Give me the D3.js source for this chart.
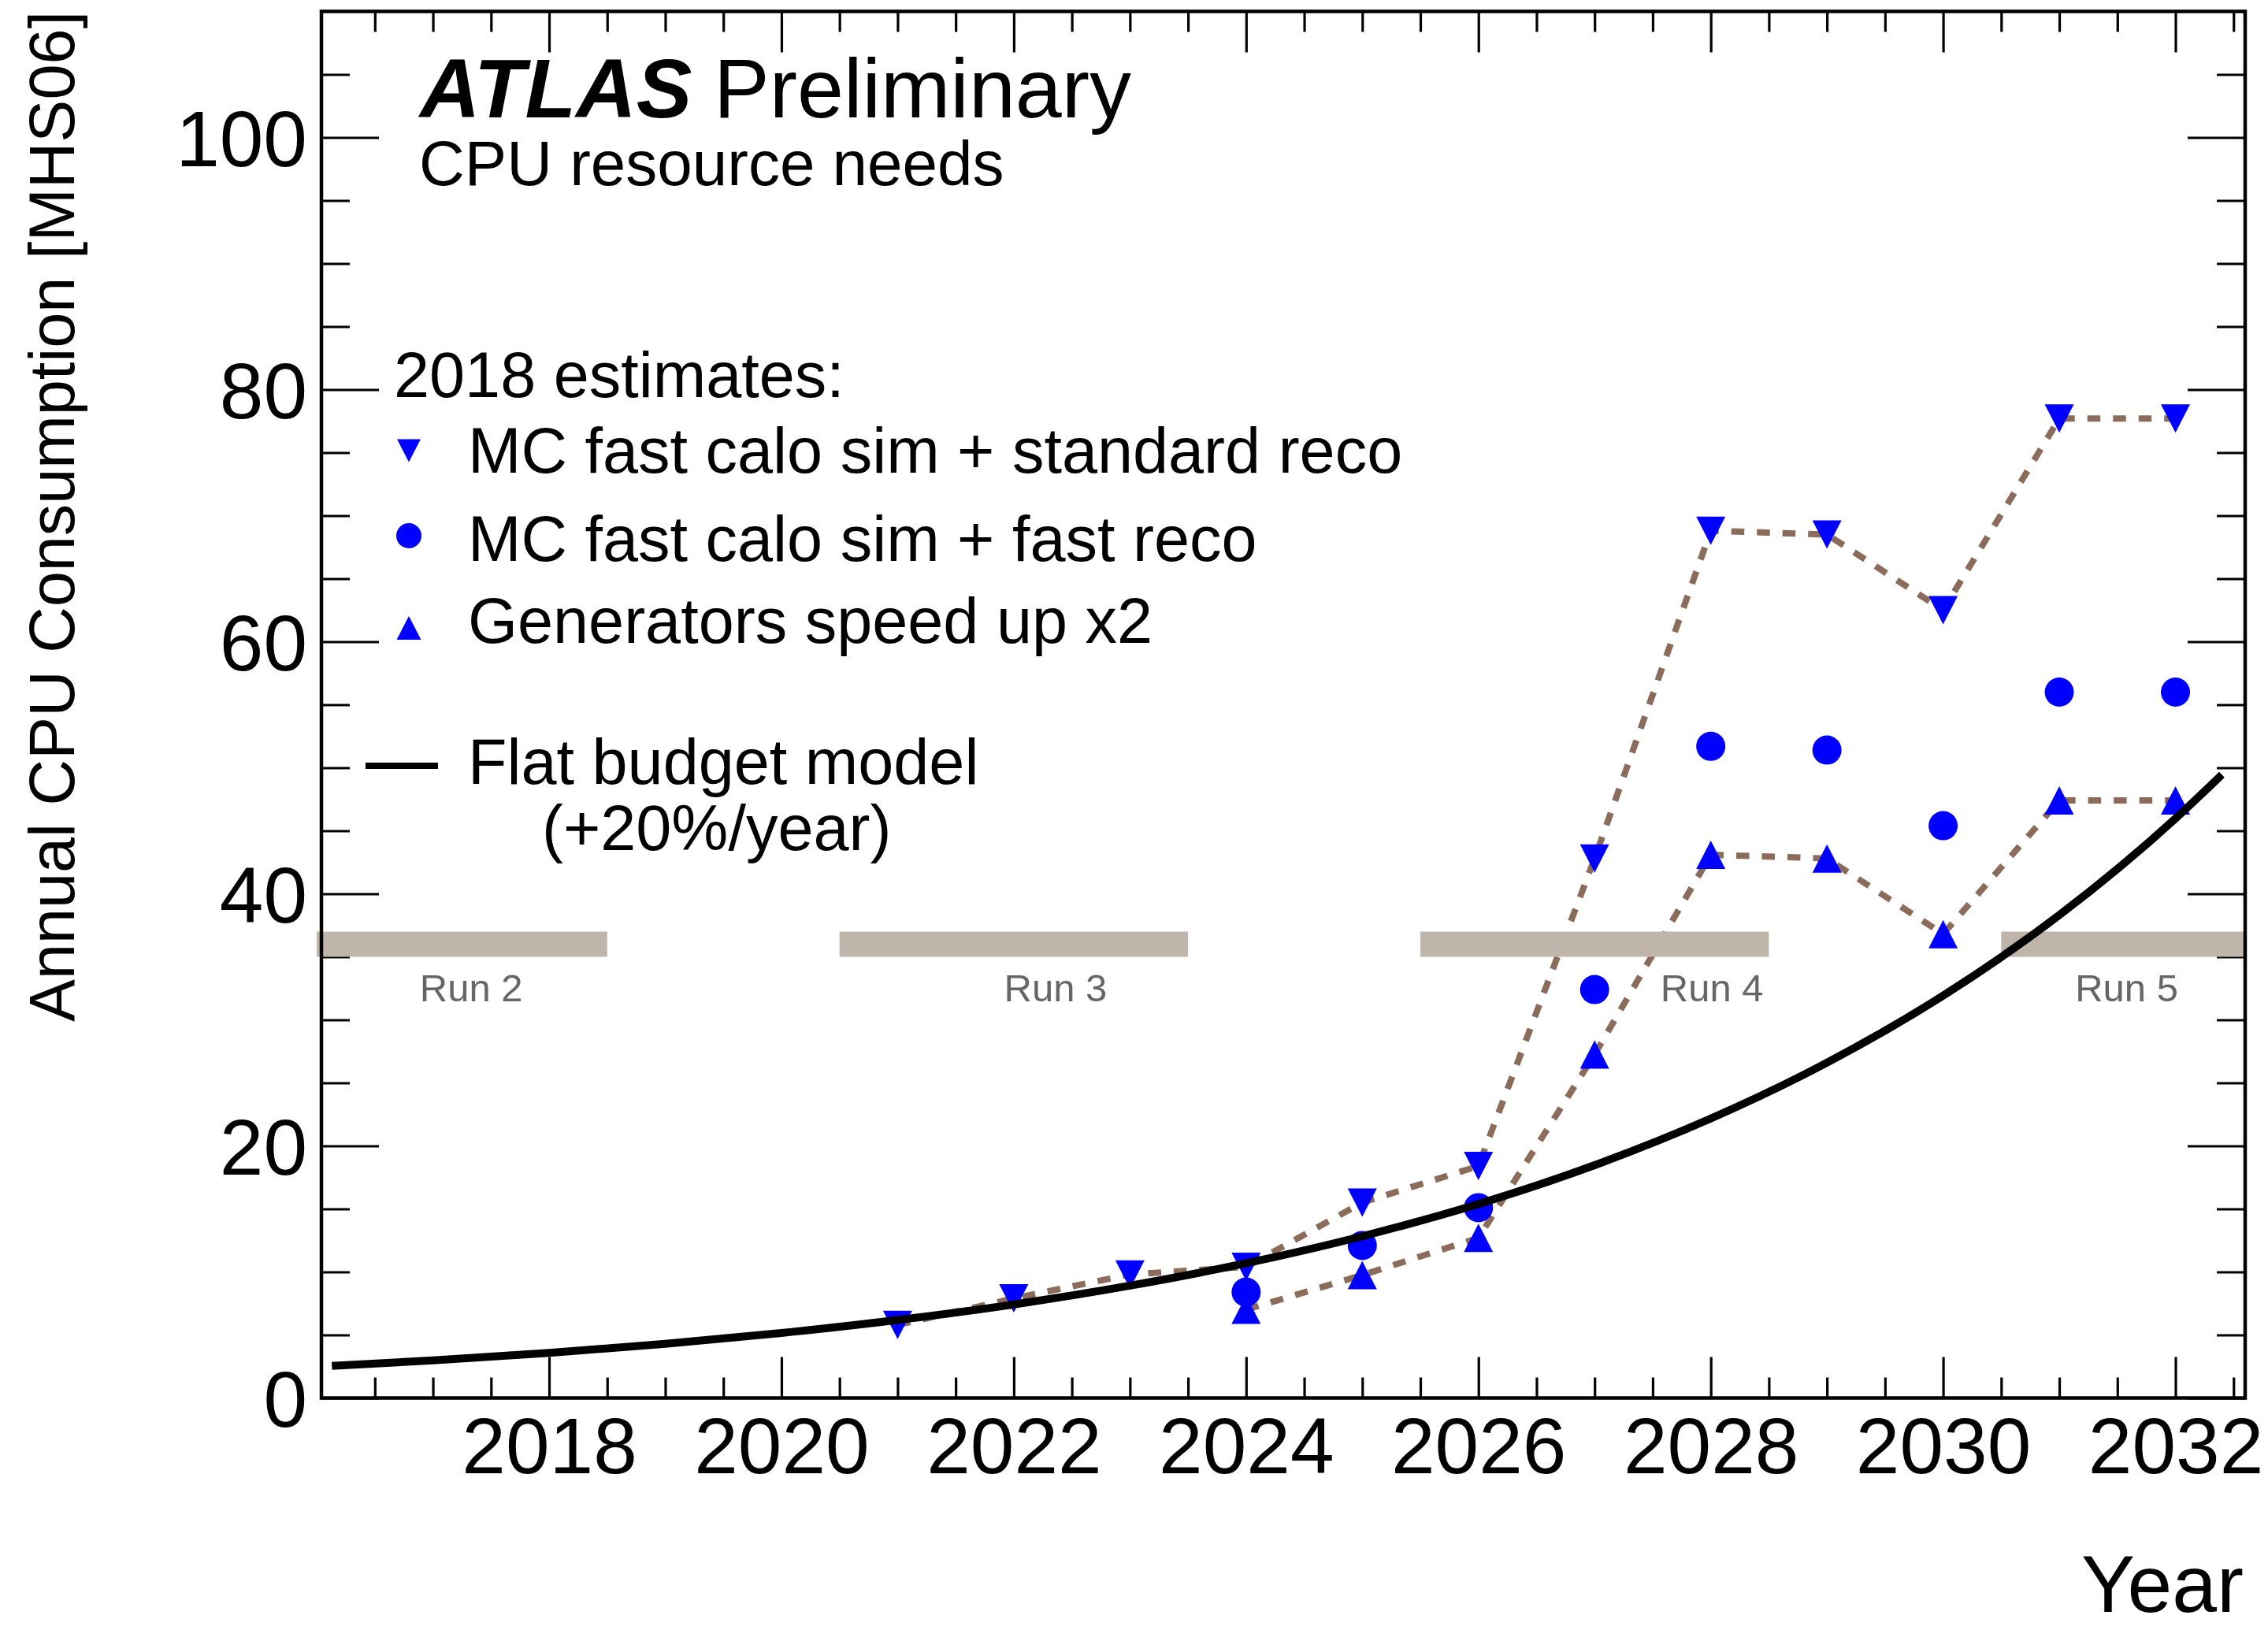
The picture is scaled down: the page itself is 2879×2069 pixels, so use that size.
<!DOCTYPE html>
<html>
<head>
<meta charset="utf-8">
<script src="https://cdn.jsdelivr.net/npm/d3@7"></script>
<style>
  html, body { margin: 0; padding: 0; background: #fff; }
  svg { display: block; }
  text { font-family: "Liberation Sans", Arial, Helvetica, sans-serif; }
</style>
</head>
<body>
<script>
// ---------------- data ----------------
const stdRecoYears  = [2021, 2022, 2023, 2024, 2025, 2026, 2027, 2028, 2029, 2030, 2031, 2032];
const stdRecoValues = [5.8, 7.9, 9.8, 10.4, 15.5, 18.4, 42.8, 68.8, 68.5, 62.5, 77.7, 77.7];

const fastRecoYears  = [2024, 2025, 2026, 2027, 2028, 2029, 2030, 2031, 2032];
const fastRecoValues = [8.4, 12.1, 15.1, 32.4, 51.7, 51.4, 45.4, 56.0, 56.0];

const genYears  = [2024, 2025, 2026, 2027, 2028, 2029, 2030, 2031, 2032];
const genValues = [7.0, 9.75, 12.7, 27.25, 43.1, 42.8, 36.8, 47.4, 47.4];

// Flat budget model (+20%/year)
const budgetYears  = [2016.13, 2017, 2018, 2019, 2020, 2021, 2022, 2023, 2024, 2025, 2026, 2027, 2028, 2029, 2030, 2031, 2032, 2032.4];
const budgetValues = [2.54, 2.98, 3.58, 4.30, 5.16, 6.19, 7.42, 8.91, 10.69, 12.83, 15.39, 18.47, 22.17, 26.60, 31.92, 38.31, 45.97, 49.45];

// LHC runs
const runNames  = ["Run 2", "Run 3", "Run 4", "Run 5"];
const runStart  = [2016.0, 2020.5, 2025.5, 2030.5];
const runEnd    = [2018.5, 2023.5, 2028.5, 2032.6];
const runLabelX = [2017.33, 2022.36, 2028.01, 2031.58];
const runBandLow = 35, runBandHigh = 37, runLabelY = 31.5;

// axes
const xMajorTicks = [2018, 2020, 2022, 2024, 2026, 2028, 2030, 2032];
const xMinorTicks = d3.range(2016.5, 2032.51, 0.5).filter(v => v % 2 !== 0);
const yMajorTicks = [0, 20, 40, 60, 80, 100];
const yMinorTicks = d3.range(5, 110, 5).filter(v => v % 20 !== 0);
const xDomain = [2016.04, 2032.6];
const yDomain = [0, 110];

const legendLabels = ["MC fast calo sim + standard reco", "MC fast calo sim + fast reco", "Generators speed up x2"];

// ---------------- layout ----------------
const W = 2879, H = 2069;
const L = 408, R = 2850, T = 14.5, B = 1774.5;
const FONT = '"Liberation Sans", Arial, Helvetica, sans-serif';
const BLUE = "#0000ff", BROWN = "#8b6b5a", BAND = "#bfb5ab", RUNTXT = "#666666";

const svg = d3.select("body").append("svg").attr("width", W).attr("height", H);
svg.append("rect").attr("width", W).attr("height", H).attr("fill", "#fff");

const x = d3.scaleLinear().domain(xDomain).range([L, R]);
const y = d3.scaleLinear().domain(yDomain).range([B, T]);

// custom symbols (bbox centred triangles)
function triType(w, h, up) {
  return { draw(ctx) {
    if (up) { ctx.moveTo(0, -h/2); ctx.lineTo(w/2, h/2); ctx.lineTo(-w/2, h/2); }
    else    { ctx.moveTo(0, h/2);  ctx.lineTo(w/2, -h/2); ctx.lineTo(-w/2, -h/2); }
    ctx.closePath();
  }};
}
const triDown = d3.symbol().type(triType(37, 36, false));
const triUp   = d3.symbol().type(triType(37, 36, true));
const circ    = d3.symbol().type(d3.symbolCircle).size(Math.PI * 18.5 * 18.5);
const triDownL = d3.symbol().type(triType(30, 29, false));
const triUpL   = d3.symbol().type(triType(31, 30, true));
const circL    = d3.symbol().type(d3.symbolCircle).size(Math.PI * 16 * 16);

// ---------------- axes ticks ----------------
function styleAxis(g) {
  g.select(".domain").remove();
  g.selectAll(".tick line").attr("stroke", "#000").attr("stroke-width", 3.2);
}
// bottom
svg.append("g").attr("transform", `translate(0,${B})`)
  .call(d3.axisBottom(x).tickValues(xMajorTicks).tickSize(-52).tickFormat(d3.format("d")))
  .call(styleAxis)
  .call(g => g.selectAll("text").attr("dy", null).attr("y", 95)
    .attr("font-size", 100).attr("font-family", FONT).attr("fill", "#000"));
svg.append("g").attr("transform", `translate(0,${B})`)
  .call(d3.axisBottom(x).tickValues(xMinorTicks).tickSize(-26).tickFormat(""))
  .call(styleAxis);
// top
svg.append("g").attr("transform", `translate(0,${T})`)
  .call(d3.axisTop(x).tickValues(xMajorTicks).tickSize(-52).tickFormat(""))
  .call(styleAxis);
svg.append("g").attr("transform", `translate(0,${T})`)
  .call(d3.axisTop(x).tickValues(xMinorTicks).tickSize(-26).tickFormat(""))
  .call(styleAxis);
// left
svg.append("g").attr("transform", `translate(${L},0)`)
  .call(d3.axisLeft(y).tickValues(yMajorTicks).tickSize(-73).tickFormat(d3.format("d")))
  .call(styleAxis)
  .call(g => g.selectAll("text").attr("x", -18).attr("dy", "0.36em")
    .attr("font-size", 100).attr("font-family", FONT).attr("fill", "#000"));
svg.append("g").attr("transform", `translate(${L},0)`)
  .call(d3.axisLeft(y).tickValues(yMinorTicks).tickSize(-36).tickFormat(""))
  .call(styleAxis);
// right
svg.append("g").attr("transform", `translate(${R},0)`)
  .call(d3.axisRight(y).tickValues(yMajorTicks).tickSize(-73).tickFormat(""))
  .call(styleAxis);
svg.append("g").attr("transform", `translate(${R},0)`)
  .call(d3.axisRight(y).tickValues(yMinorTicks).tickSize(-36).tickFormat(""))
  .call(styleAxis);

// ---------------- dashed connecting lines ----------------
const line = d3.line().x(d => x(d[0])).y(d => y(d[1]));
const stdPts = stdRecoYears.map((yr, i) => [yr, stdRecoValues[i]]);
const fastPts = fastRecoYears.map((yr, i) => [yr, fastRecoValues[i]]);
const genPts = genYears.map((yr, i) => [yr, genValues[i]]);

[stdPts, genPts].forEach(pts => {
  svg.append("path").attr("d", line(pts)).attr("fill", "none")
    .attr("stroke", BROWN).attr("stroke-width", 8).attr("stroke-dasharray", "16.5,16");
});

// ---------------- run bands ----------------
const runs = runNames.map((n, i) => ({ name: n, s: runStart[i], e: runEnd[i], lx: runLabelX[i] }));
svg.append("g").selectAll("rect").data(runs).join("rect")
  .attr("x", d => x(d.s)).attr("width", d => x(d.e) - x(d.s))
  .attr("y", y(runBandHigh)).attr("height", y(runBandLow) - y(runBandHigh))
  .attr("fill", BAND);
svg.append("g").selectAll("text").data(runs).join("text")
  .attr("x", d => x(d.lx)).attr("y", y(runLabelY)).attr("text-anchor", "middle")
  .attr("font-size", 49).attr("fill", RUNTXT).text(d => d.name);

// ---------------- markers ----------------
svg.append("g").selectAll("path").data(stdPts).join("path")
  .attr("transform", d => `translate(${x(d[0])},${y(d[1])})`).attr("d", triDown()).attr("fill", BLUE);
svg.append("g").selectAll("path").data(fastPts).join("path")
  .attr("transform", d => `translate(${x(d[0])},${y(d[1])})`).attr("d", circ()).attr("fill", BLUE);
svg.append("g").selectAll("path").data(genPts).join("path")
  .attr("transform", d => `translate(${x(d[0])},${y(d[1])})`).attr("d", triUp()).attr("fill", BLUE);

// ---------------- flat budget curve ----------------
const budgetPts = budgetYears.map((yr, i) => [yr, budgetValues[i]]);
svg.append("path").attr("d", d3.line().curve(d3.curveMonotoneX).x(d => x(d[0])).y(d => y(d[1]))(budgetPts))
  .attr("fill", "none").attr("stroke", "#000").attr("stroke-width", 10);

// ---------------- frame ----------------
svg.append("rect").attr("x", L).attr("y", T).attr("width", R - L).attr("height", B - T)
  .attr("fill", "none").attr("stroke", "#000").attr("stroke-width", 4.5);

// ---------------- texts ----------------
svg.append("text").attr("x", 533).attr("y", 149).attr("font-size", 106)
  .attr("font-weight", "bold").attr("font-style", "italic").text("ATLAS");
svg.append("text").attr("x", 906).attr("y", 149).attr("font-size", 106).text("Preliminary");
svg.append("text").attr("x", 532).attr("y", 235).attr("font-size", 80).text("CPU resource needs");

// legend
svg.append("text").attr("x", 500).attr("y", 504).attr("font-size", 81).text("2018 estimates:");
const legBase = [600, 712, 816];
const legMarkY = [572, 680, 797];
const legSyms = [triDownL, circL, triUpL];
legendLabels.forEach((lab, i) => {
  svg.append("path").attr("transform", `translate(519,${legMarkY[i]})`).attr("d", legSyms[i]()).attr("fill", BLUE);
  svg.append("text").attr("x", 594).attr("y", legBase[i]).attr("font-size", 81).text(lab);
});
svg.append("line").attr("x1", 464).attr("x2", 556).attr("y1", 972).attr("y2", 972)
  .attr("stroke", "#000").attr("stroke-width", 8);
svg.append("text").attr("x", 594).attr("y", 995).attr("font-size", 81).text("Flat budget model");
svg.append("text").attr("x", 688).attr("y", 1079).attr("font-size", 81).text("(+20%/year)");

// axis titles
svg.append("text").attr("x", 2848).attr("y", 2046).attr("text-anchor", "end")
  .attr("font-size", 102).text("Year");
svg.append("text").attr("transform", "translate(94,14) rotate(-90)").attr("text-anchor", "end")
  .attr("font-size", 81).text("Annual CPU Consumption [MHS06]");
</script>
</body>
</html>
